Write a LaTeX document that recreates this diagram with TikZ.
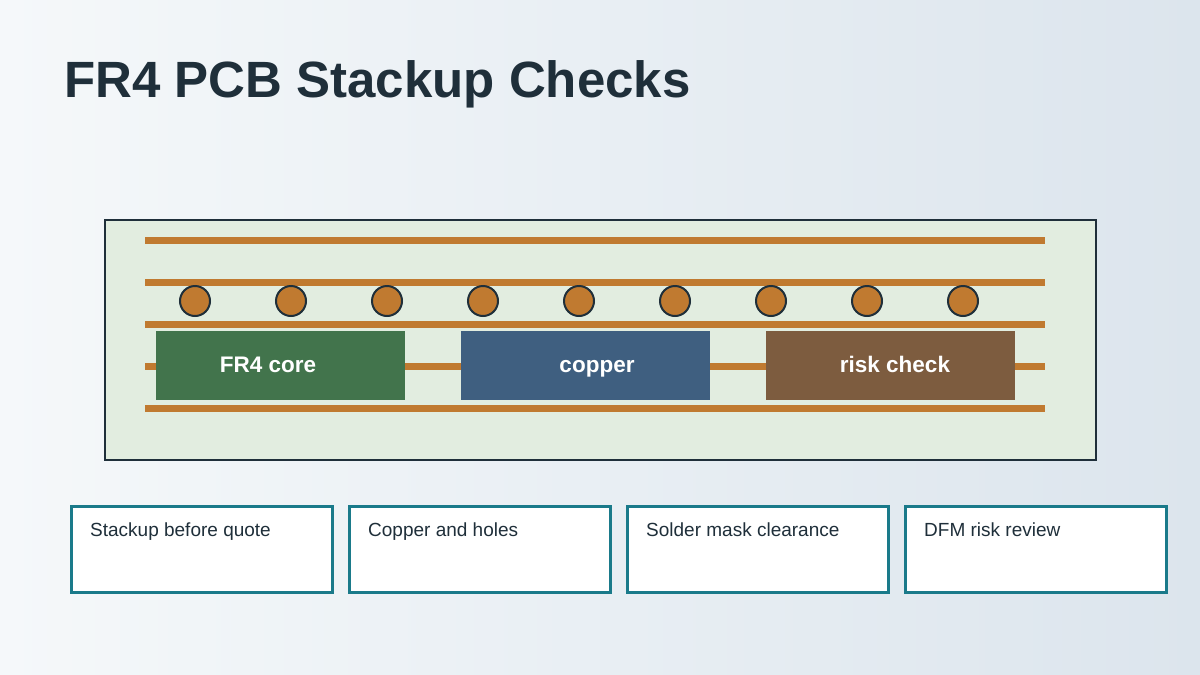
\documentclass[tikz,border=0pt]{standalone}
\usepackage{fontspec}
\setmainfont{Liberation Sans}
\definecolor{bgl}{HTML}{F5F8FA}
\definecolor{bgr}{HTML}{DCE5ED}
\definecolor{dark}{HTML}{1F2F3A}
\definecolor{cu}{HTML}{C07A30}
\definecolor{boardfill}{HTML}{E2EDE0}
\definecolor{gr}{HTML}{42744C}
\definecolor{bl}{HTML}{3F5F80}
\definecolor{br}{HTML}{7D5C3F}
\definecolor{teal}{HTML}{1A7A8A}
\begin{document}
\begin{tikzpicture}[x=1pt,y=-1pt,
  trace/.style={cu,line width=7pt},
  via/.style={circle,draw=dark,line width=2pt,fill=cu,minimum size=30pt,inner sep=0pt},
  blk/.style={minimum width=249pt,minimum height=69pt,inner sep=0pt},
  blktxt/.style={anchor=base,inner sep=0pt,text=white,font=\fontsize{22.5}{26}\selectfont\bfseries},
  card/.style={draw=teal,line width=3pt,fill=white,minimum width=261pt,minimum height=86pt,inner sep=0pt},
  cardtxt/.style={anchor=base west,inner sep=0pt,font=\fontsize{19}{22}\selectfont,text=dark}]
\shade[left color=bgl,right color=bgr] (0,0) rectangle (1200,675);
\useasboundingbox (0,0) rectangle (1200,675);
\node[anchor=base west,text=dark,font=\fontsize{51}{58}\selectfont\bfseries,inner sep=0pt] (title) at (64,97) {FR4 PCB Stackup Checks};
\node[draw=dark,line width=2pt,fill=boardfill,minimum width=991pt,minimum height=240pt,inner sep=0pt] (board) at (600.5,340) {};
\foreach \y/\n in {240/a,282/b,324/c,366/d,408/e}{
  \coordinate (l\n) at (145,\y); \coordinate (r\n) at (1045,\y);
  \draw[trace] (l\n) -- (r\n);}
\foreach \k in {0,...,8}{\node[via] (v\k) at ({195+96*\k},301) {};}
\node[blk,fill=gr] (core) at (280,365.5) {};
\node[blk,fill=bl] (copper) at (585.5,365.5) {};
\node[blk,fill=br] (risk) at (890.5,365.5) {};
\node[blktxt] (coret) at (268,372) {FR4 core};
\node[blktxt] (coppert) at (597,372) {copper};
\node[blktxt] (riskt) at (895,372) {risk check};
\foreach \x/\t/\n in {70/Stackup before quote/c1,348/Copper and holes/c2,626/Solder mask clearance/c3,904/DFM risk review/c4}{
  \node[card,anchor=north west] (\n) at (\x,505) {};
  \node[cardtxt] (\n t) at ([shift={(20,31)}]\n.north west) {\t};}
\end{tikzpicture}
\end{document}
